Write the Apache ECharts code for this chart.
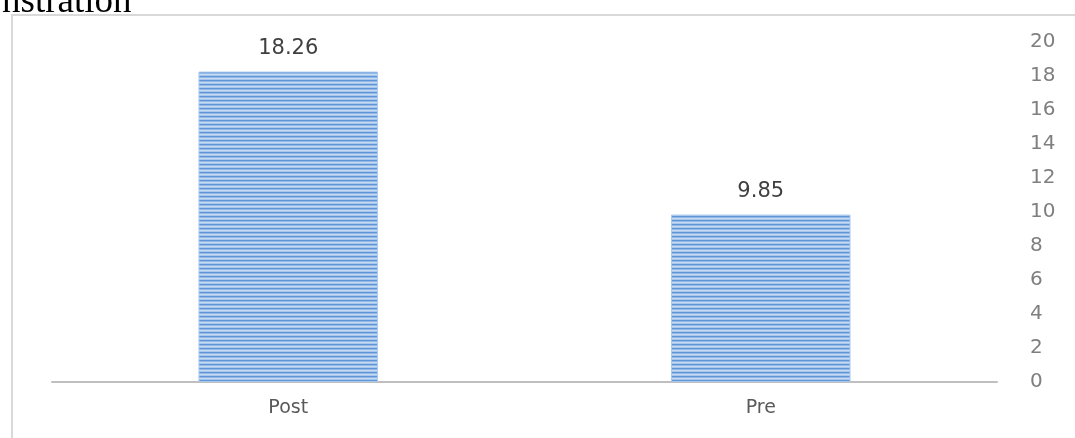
<!DOCTYPE html>
<html><head><meta charset="utf-8">
<script src="https://cdn.jsdelivr.net/npm/echarts@6/dist/echarts.min.js"></script>
<style>html,body{margin:0;padding:0;background:#fff}#c{width:1075px;height:438px}</style>
</head><body><div id="c"></div>
<script>
var categories = ['Post', 'Pre'];
var values = [18.26, 9.85];
var yTicks = [0, 2, 4, 6, 8, 10, 12, 14, 16, 18, 20];

// striped fill pattern
var pc = document.createElement('canvas');
pc.width = 4; pc.height = 4;
var g = pc.getContext('2d');
var rows = ['#5f95d6', '#93b9e7', '#c6dbf3', '#a8c7ec'];
for (var i = 0; i < rows.length; i++) { g.fillStyle = rows[i]; g.fillRect(0, i, 4, 1); }

var chart = echarts.init(document.getElementById('c'));
chart.setOption({
  animation: false,
  backgroundColor: '#fff',
  graphic: [
    { type: 'rect', shape: { x: 12, y: 15, width: 1100, height: 500 }, style: { fill: 'none', stroke: '#d9d9d9', lineWidth: 2 }, z: -1 },
    { type: 'text', left: 2, top: -16, style: { text: 'nstration', font: '37px "Liberation Serif"', fill: '#000' } }
  ],
  grid: { left: 52, right: 78, top: 42, bottom: 56 },
  xAxis: {
    type: 'category', data: categories,
    axisLine: { lineStyle: { color: '#bfbfbf', width: 2 } },
    axisTick: { show: false },
    axisLabel: { color: '#595959', fontSize: 19, fontFamily: 'DejaVu Sans', margin: 17 }
  },
  yAxis: {
    type: 'value', position: 'right', min: 0, max: 20, interval: 2,
    splitLine: { show: false }, axisLine: { show: false }, axisTick: { show: false },
    axisLabel: { color: '#7f7f7f', fontSize: 20, fontFamily: 'DejaVu Sans', margin: 33, align: 'left',
      formatter: function (v) { return yTicks.indexOf(v) >= 0 ? String(v) : ''; } }
  },
  series: [{
    type: 'bar', data: values, barWidth: '38%',
    itemStyle: { color: { image: pc, repeat: 'repeat' }, borderColor: '#a9c9ee', borderWidth: 1 },
    label: { show: true, position: 'top', distance: 13, color: '#404040', fontSize: 21, fontFamily: 'DejaVu Sans',
      formatter: function (p) { return p.value.toFixed(2); } }
  }]
});
</script></body></html>
